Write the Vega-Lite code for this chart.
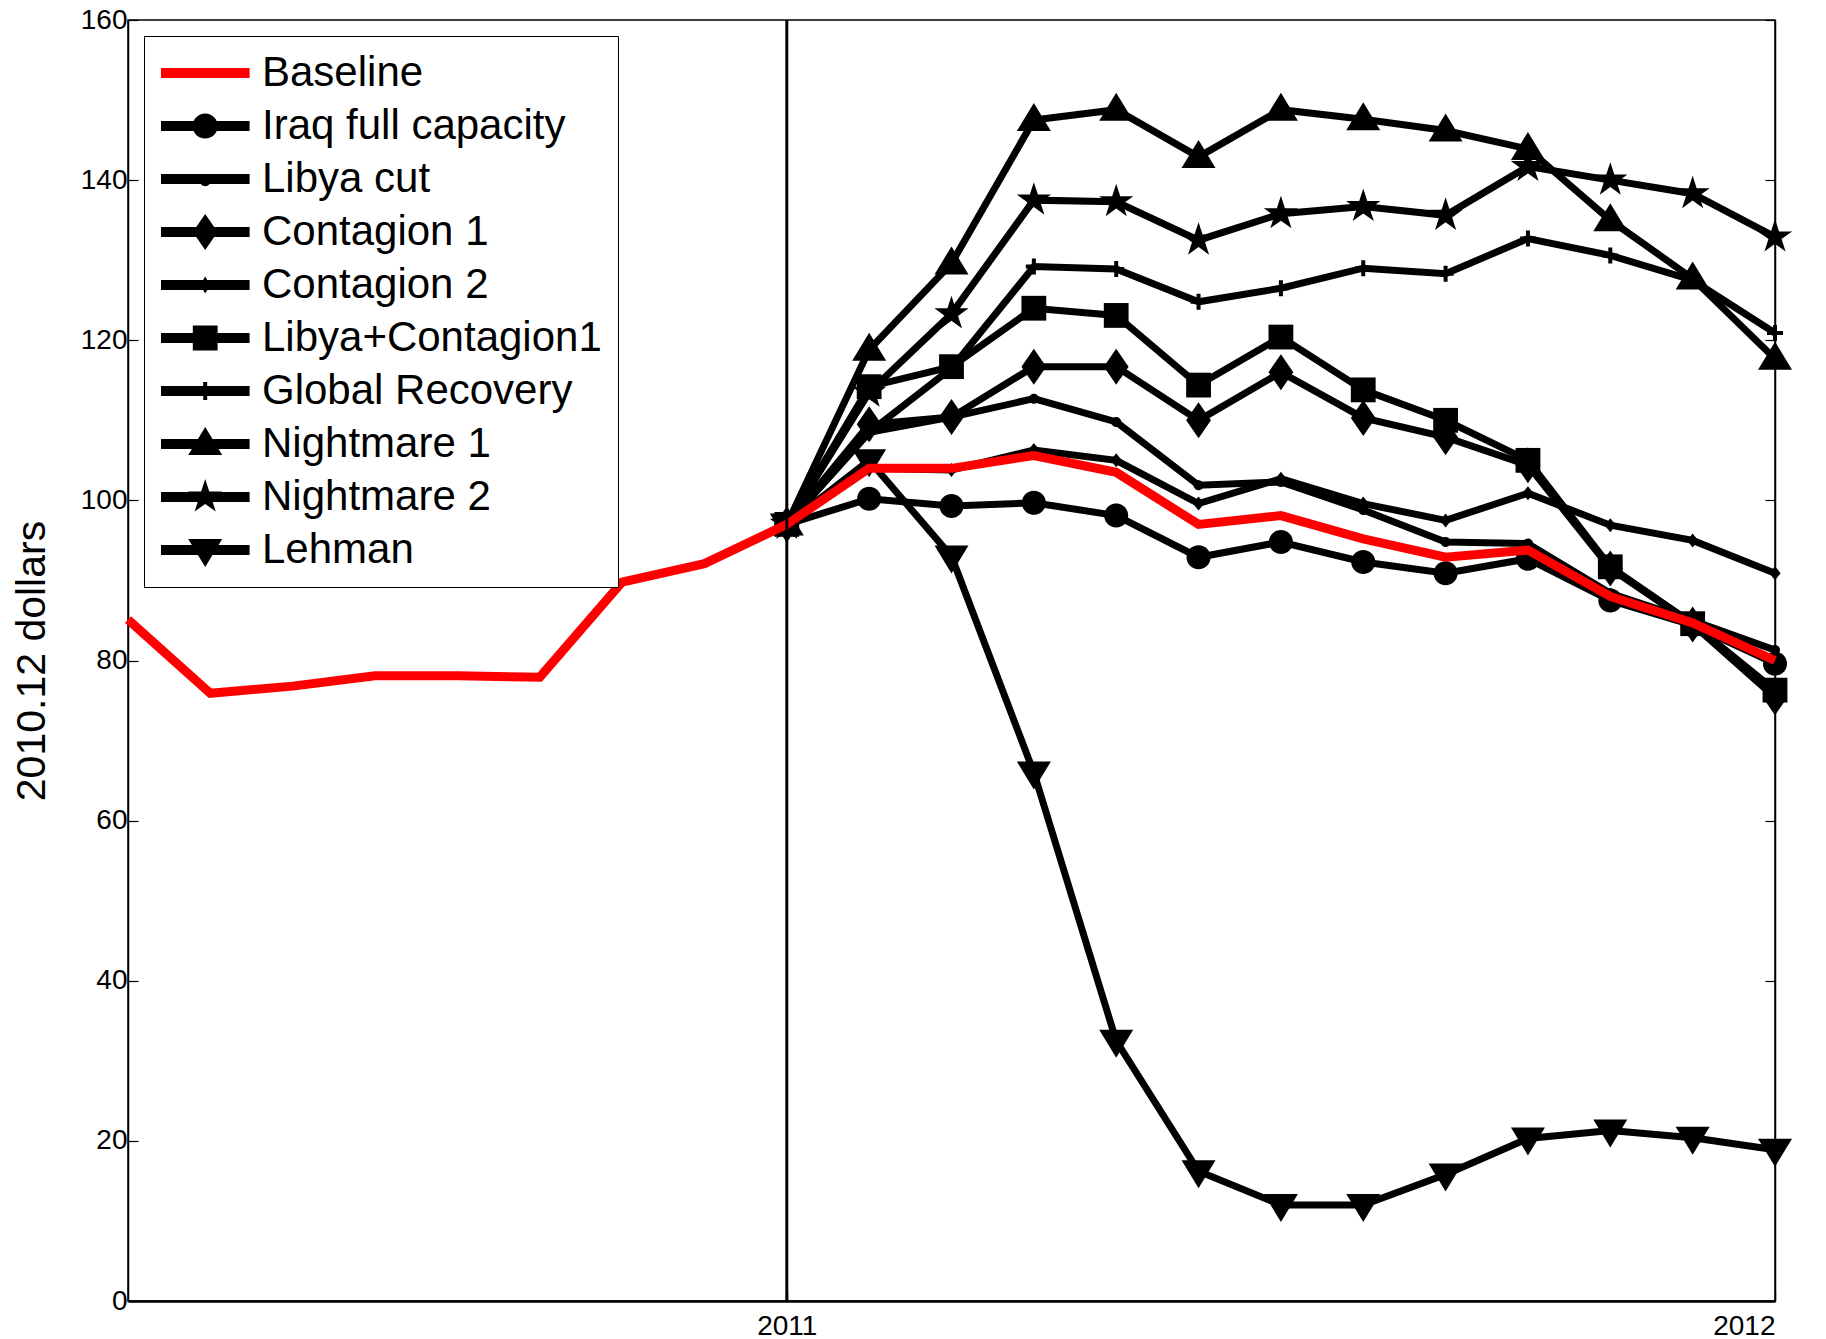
{
  "$schema": "https://vega.github.io/schema/vega-lite/v6.json",
  "width": 1647,
  "height": 1281,
  "autosize": {"type": "none"},
  "padding": {"left": 128, "top": 20, "right": 51, "bottom": 38},
  "background": "white",
  "config": {
    "view": {"stroke": "black", "strokeWidth": 1.5},
    "font": "Liberation Sans",
    "axis": {"grid": false, "labelFont": "Liberation Sans", "labelFontSize": 28, "labelColor": "black", "domainColor": "black", "tickColor": "black", "titleColor": "black", "domainWidth": 1.5, "tickWidth": 1.2, "titleFont": "Liberation Sans"},
    "legend": {
      "orient": "top-left",
      "offset": 16,
      "padding": 16,
      "strokeColor": "black",
      "fillColor": "white",
      "labelFontSize": 42,
      "labelFont": "Liberation Sans",
      "labelColor": "black",
      "labelOffset": 60,
      "labelLimit": 1000,
      "rowPadding": 11,
      "symbolSize": 1600,
      "symbolOpacity": 1,
      "symbolStrokeWidth": 0
    }
  },
  "datasets": {
    "d": [
      {"series":"Baseline","m":-8,"v":85.1},{"series":"Baseline","m":-7,"v":75.9},{"series":"Baseline","m":-6,"v":76.8},{"series":"Baseline","m":-5,"v":78.1},{"series":"Baseline","m":-4,"v":78.1},{"series":"Baseline","m":-3,"v":77.9},{"series":"Baseline","m":-2,"v":89.8},{"series":"Baseline","m":-1,"v":92.1},{"series":"Baseline","m":0,"v":97.0},{"series":"Baseline","m":1,"v":104.0},{"series":"Baseline","m":2,"v":104.0},{"series":"Baseline","m":3,"v":105.6},{"series":"Baseline","m":4,"v":103.5},{"series":"Baseline","m":5,"v":97.0},{"series":"Baseline","m":6,"v":98.1},{"series":"Baseline","m":7,"v":95.2},{"series":"Baseline","m":8,"v":92.9},{"series":"Baseline","m":9,"v":93.8},{"series":"Baseline","m":10,"v":88.0},{"series":"Baseline","m":11,"v":84.7},{"series":"Baseline","m":12,"v":80.0},
      {"series":"Iraq full capacity","m":0,"v":97},{"series":"Iraq full capacity","m":1,"v":100.2},{"series":"Iraq full capacity","m":2,"v":99.3},{"series":"Iraq full capacity","m":3,"v":99.7},{"series":"Iraq full capacity","m":4,"v":98.1},{"series":"Iraq full capacity","m":5,"v":92.9},{"series":"Iraq full capacity","m":6,"v":94.8},{"series":"Iraq full capacity","m":7,"v":92.3},{"series":"Iraq full capacity","m":8,"v":90.9},{"series":"Iraq full capacity","m":9,"v":92.7},{"series":"Iraq full capacity","m":10,"v":87.5},{"series":"Iraq full capacity","m":11,"v":84.4},{"series":"Iraq full capacity","m":12,"v":79.6},
      {"series":"Libya cut","m":0,"v":97},{"series":"Libya cut","m":1,"v":108.5},{"series":"Libya cut","m":2,"v":110.4},{"series":"Libya cut","m":3,"v":112.7},{"series":"Libya cut","m":4,"v":109.8},{"series":"Libya cut","m":5,"v":101.9},{"series":"Libya cut","m":6,"v":102.3},{"series":"Libya cut","m":7,"v":98.8},{"series":"Libya cut","m":8,"v":94.8},{"series":"Libya cut","m":9,"v":94.6},{"series":"Libya cut","m":10,"v":88.4},{"series":"Libya cut","m":11,"v":85.0},{"series":"Libya cut","m":12,"v":81.3},
      {"series":"Contagion 1","m":0,"v":97},{"series":"Contagion 1","m":1,"v":109.5},{"series":"Contagion 1","m":2,"v":110.4},{"series":"Contagion 1","m":3,"v":116.7},{"series":"Contagion 1","m":4,"v":116.7},{"series":"Contagion 1","m":5,"v":110.0},{"series":"Contagion 1","m":6,"v":116.0},{"series":"Contagion 1","m":7,"v":110.3},{"series":"Contagion 1","m":8,"v":107.9},{"series":"Contagion 1","m":9,"v":104.4},{"series":"Contagion 1","m":10,"v":91.5},{"series":"Contagion 1","m":11,"v":84.5},{"series":"Contagion 1","m":12,"v":75.4},
      {"series":"Contagion 2","m":0,"v":97},{"series":"Contagion 2","m":1,"v":104.0},{"series":"Contagion 2","m":2,"v":103.8},{"series":"Contagion 2","m":3,"v":106.3},{"series":"Contagion 2","m":4,"v":105.0},{"series":"Contagion 2","m":5,"v":99.6},{"series":"Contagion 2","m":6,"v":102.7},{"series":"Contagion 2","m":7,"v":99.6},{"series":"Contagion 2","m":8,"v":97.5},{"series":"Contagion 2","m":9,"v":100.9},{"series":"Contagion 2","m":10,"v":96.9},{"series":"Contagion 2","m":11,"v":95.0},{"series":"Contagion 2","m":12,"v":90.9},
      {"series":"Libya+Contagion1","m":0,"v":97},{"series":"Libya+Contagion1","m":1,"v":114.2},{"series":"Libya+Contagion1","m":2,"v":116.7},{"series":"Libya+Contagion1","m":3,"v":124.0},{"series":"Libya+Contagion1","m":4,"v":123.1},{"series":"Libya+Contagion1","m":5,"v":114.4},{"series":"Libya+Contagion1","m":6,"v":120.4},{"series":"Libya+Contagion1","m":7,"v":113.8},{"series":"Libya+Contagion1","m":8,"v":110.0},{"series":"Libya+Contagion1","m":9,"v":105.0},{"series":"Libya+Contagion1","m":10,"v":91.7},{"series":"Libya+Contagion1","m":11,"v":84.6},{"series":"Libya+Contagion1","m":12,"v":76.3},
      {"series":"Global Recovery","m":0,"v":97},{"series":"Global Recovery","m":1,"v":108.5},{"series":"Global Recovery","m":2,"v":116.5},{"series":"Global Recovery","m":3,"v":129.2},{"series":"Global Recovery","m":4,"v":128.9},{"series":"Global Recovery","m":5,"v":124.8},{"series":"Global Recovery","m":6,"v":126.5},{"series":"Global Recovery","m":7,"v":129.0},{"series":"Global Recovery","m":8,"v":128.3},{"series":"Global Recovery","m":9,"v":132.7},{"series":"Global Recovery","m":10,"v":130.6},{"series":"Global Recovery","m":11,"v":127.5},{"series":"Global Recovery","m":12,"v":120.9},
      {"series":"Nightmare 1","m":0,"v":97},{"series":"Nightmare 1","m":1,"v":118.8},{"series":"Nightmare 1","m":2,"v":129.6},{"series":"Nightmare 1","m":3,"v":147.5},{"series":"Nightmare 1","m":4,"v":148.8},{"series":"Nightmare 1","m":5,"v":142.9},{"series":"Nightmare 1","m":6,"v":148.8},{"series":"Nightmare 1","m":7,"v":147.6},{"series":"Nightmare 1","m":8,"v":146.2},{"series":"Nightmare 1","m":9,"v":143.9},{"series":"Nightmare 1","m":10,"v":135.0},{"series":"Nightmare 1","m":11,"v":127.7},{"series":"Nightmare 1","m":12,"v":117.7},
      {"series":"Nightmare 2","m":0,"v":97},{"series":"Nightmare 2","m":1,"v":113.5},{"series":"Nightmare 2","m":2,"v":123.3},{"series":"Nightmare 2","m":3,"v":137.5},{"series":"Nightmare 2","m":4,"v":137.3},{"series":"Nightmare 2","m":5,"v":132.5},{"series":"Nightmare 2","m":6,"v":135.8},{"series":"Nightmare 2","m":7,"v":136.7},{"series":"Nightmare 2","m":8,"v":135.6},{"series":"Nightmare 2","m":9,"v":141.7},{"series":"Nightmare 2","m":10,"v":140.0},{"series":"Nightmare 2","m":11,"v":138.3},{"series":"Nightmare 2","m":12,"v":132.9},
      {"series":"Lehman","m":0,"v":97},{"series":"Lehman","m":1,"v":105.0},{"series":"Lehman","m":2,"v":93.0},{"series":"Lehman","m":3,"v":66.0},{"series":"Lehman","m":4,"v":32.5},{"series":"Lehman","m":5,"v":16.2},{"series":"Lehman","m":6,"v":12.0},{"series":"Lehman","m":7,"v":12.0},{"series":"Lehman","m":8,"v":15.8},{"series":"Lehman","m":9,"v":20.3},{"series":"Lehman","m":10,"v":21.3},{"series":"Lehman","m":11,"v":20.4},{"series":"Lehman","m":12,"v":18.9}
    ],
    "vline": [{"m": 0}]
  },
  "layer": [
    {
      "data": {"name": "d"},
      "transform": [{"filter": "datum.series !== 'Baseline'"}],
      "mark": {"type": "line", "color": "black", "strokeWidth": 7, "strokeJoin": "miter"},
      "encoding": {
        "x": {"field": "m", "type": "quantitative", "scale": {"domain": [-8, 12], "nice": false, "zero": false}, "axis": {"values": [0, 12], "labelExpr": "datum.value == 0 ? '2011' : '2012'", "title": null, "tickSize": -10, "labelPadding": 21, "domainWidth": 2.5}},
        "y": {"field": "v", "type": "quantitative", "scale": {"domain": [0, 160], "nice": false, "zero": true}, "axis": {"orient": "left", "values": [0, 20, 40, 60, 80, 100, 120, 140, 160], "tickSize": -10, "labelPadding": 11, "title": "2010.12 dollars", "titleFontSize": 41, "titleFontWeight": "normal", "titlePadding": 27}},
        "detail": {"field": "series"}
      }
    },
    {
      "data": {"name": "d"},
      "transform": [{"filter": "datum.series !== 'Baseline'"}],
      "mark": {"type": "point", "filled": true, "color": "black", "opacity": 1, "size": 1600, "strokeWidth": 0},
      "encoding": {
        "x": {"field": "m", "type": "quantitative", "scale": {"domain": [-8, 12], "nice": false, "zero": false}, "axis": {"values": [0, 12], "labelExpr": "datum.value == 0 ? '2011' : '2012'", "title": null, "tickSize": -10, "labelPadding": 21, "domainWidth": 2.5}},
        "y": {"field": "v", "type": "quantitative", "scale": {"domain": [0, 160], "nice": false, "zero": true}, "axis": {"orient": "right", "values": [0, 20, 40, 60, 80, 100, 120, 140, 160], "tickSize": -10, "labels": false, "title": null}},
        "shape": {
          "field": "series",
          "scale": {
            "domain": ["Iraq full capacity", "Libya cut", "Contagion 1", "Contagion 2", "Libya+Contagion1", "Global Recovery", "Nightmare 1", "Nightmare 2", "Lehman"],
            "range": [
              "M-0.6,0A0.6,0.6 0 1,1 0.6,0A0.6,0.6 0 1,1 -0.6,0Z",
              "M-0.25,0A0.25,0.25 0 1,1 0.25,0A0.25,0.25 0 1,1 -0.25,0Z",
              "M0,-0.9L0.62,0L0,0.9L-0.62,0Z",
              "M0,-0.35L0.28,0L0,0.35L-0.28,0Z",
              "M-0.62,-0.62H0.62V0.62H-0.62Z",
              "M-0.1,-0.4H0.1V-0.1H0.4V0.1H0.1V0.4H-0.1V0.1H-0.4V-0.1H-0.1Z",
              "M0,-0.85L0.85,0.55L-0.85,0.55Z",
              "M0,-0.9L0.202,-0.278L0.856,-0.278L0.327,0.106L0.529,0.728L0,0.344L-0.529,0.728L-0.327,0.106L-0.856,-0.278L-0.202,-0.278Z",
              "M0,0.85L-0.85,-0.55L0.85,-0.55Z"
            ]
          },
          "legend": null
        }
      }
    },
    {
      "data": {"name": "d"},
      "transform": [{"filter": "datum.series === 'Baseline'"}],
      "mark": {"type": "line", "color": "#ff0000", "strokeWidth": 9, "strokeJoin": "miter"},
      "encoding": {
        "x": {"field": "m", "type": "quantitative", "scale": {"domain": [-8, 12], "nice": false, "zero": false}, "axis": {"values": [0, 12], "labelExpr": "datum.value == 0 ? '2011' : '2012'", "title": null, "tickSize": -10, "labelPadding": 21, "domainWidth": 2.5}},
        "y": {"field": "v", "type": "quantitative", "scale": {"domain": [0, 160], "nice": false, "zero": true}, "axis": null}
      }
    },
    {
      "data": {"name": "vline"},
      "mark": {"type": "rule", "color": "black", "strokeWidth": 3},
      "encoding": {
        "x": {"field": "m", "type": "quantitative", "scale": {"domain": [-8, 12], "nice": false, "zero": false}, "axis": {"values": [0, 12], "labelExpr": "datum.value == 0 ? '2011' : '2012'", "title": null, "tickSize": -10, "labelPadding": 21, "domainWidth": 2.5}}
      }
    },
    {
      "data": {"name": "d"},
      "transform": [{"filter": "datum.m === 0"}],
      "mark": {"type": "point", "filled": true, "opacity": 0, "size": 1600, "strokeWidth": 0},
      "encoding": {
        "x": {"field": "m", "type": "quantitative", "scale": {"domain": [-8, 12], "nice": false, "zero": false}, "axis": {"values": [0, 12], "labelExpr": "datum.value == 0 ? '2011' : '2012'", "title": null, "tickSize": -10, "labelPadding": 21, "domainWidth": 2.5}},
        "y": {"field": "v", "type": "quantitative", "scale": {"domain": [0, 160], "nice": false, "zero": true}, "axis": null},
        "color": {
          "field": "series",
          "scale": {
            "domain": ["Baseline", "Iraq full capacity", "Libya cut", "Contagion 1", "Contagion 2", "Libya+Contagion1", "Global Recovery", "Nightmare 1", "Nightmare 2", "Lehman"],
            "range": ["#ff0000", "#000000", "#000000", "#000000", "#000000", "#000000", "#000000", "#000000", "#000000", "#000000"]
          },
          "legend": {"title": null}
        },
        "shape": {
          "field": "series",
          "scale": {
            "domain": ["Baseline", "Iraq full capacity", "Libya cut", "Contagion 1", "Contagion 2", "Libya+Contagion1", "Global Recovery", "Nightmare 1", "Nightmare 2", "Lehman"],
            "range": [
              "M-1,-0.25H3.43V0.25H-1Z",
              "M-1,-0.25H3.43V0.25H-1Z M0.58,0A0.63,0.63 0 1,1 1.84,0A0.63,0.63 0 1,1 0.58,0Z",
              "M-1,-0.25H3.43V0.25H-1Z M0.93,0.08A0.28,0.28 0 1,1 1.49,0.08A0.28,0.28 0 1,1 0.93,0.08Z",
              "M-1,-0.25H3.43V0.25H-1Z M1.21,-0.9L1.83,0L1.21,0.9L0.59,0Z",
              "M-1,-0.25H3.43V0.25H-1Z M1.21,-0.42L1.46,0L1.21,0.42L0.96,0Z",
              "M-1,-0.25H3.43V0.25H-1Z M0.59,-0.62H1.83V0.62H0.59Z",
              "M-1,-0.25H3.43V0.25H-1Z M1.11,-0.45H1.31V-0.1H1.61V0.1H1.31V0.45H1.11V0.1H0.81V-0.1H1.11Z",
              "M-1,-0.25H3.43V0.25H-1Z M1.21,-0.85L2.06,0.55L0.36,0.55Z",
              "M-1,-0.25H3.43V0.25H-1Z M1.21,-0.9L1.412,-0.278L2.066,-0.278L1.537,0.106L1.739,0.728L1.21,0.344L0.681,0.728L0.883,0.106L0.354,-0.278L1.008,-0.278Z",
              "M-1,-0.25H3.43V0.25H-1Z M1.21,0.85L0.36,-0.55L2.06,-0.55Z"
            ]
          },
          "legend": {"title": null}
        }
      }
    }
  ],
  "resolve": {"scale": {"shape": "independent", "color": "independent"}, "axis": {"y": "independent"}}
}
